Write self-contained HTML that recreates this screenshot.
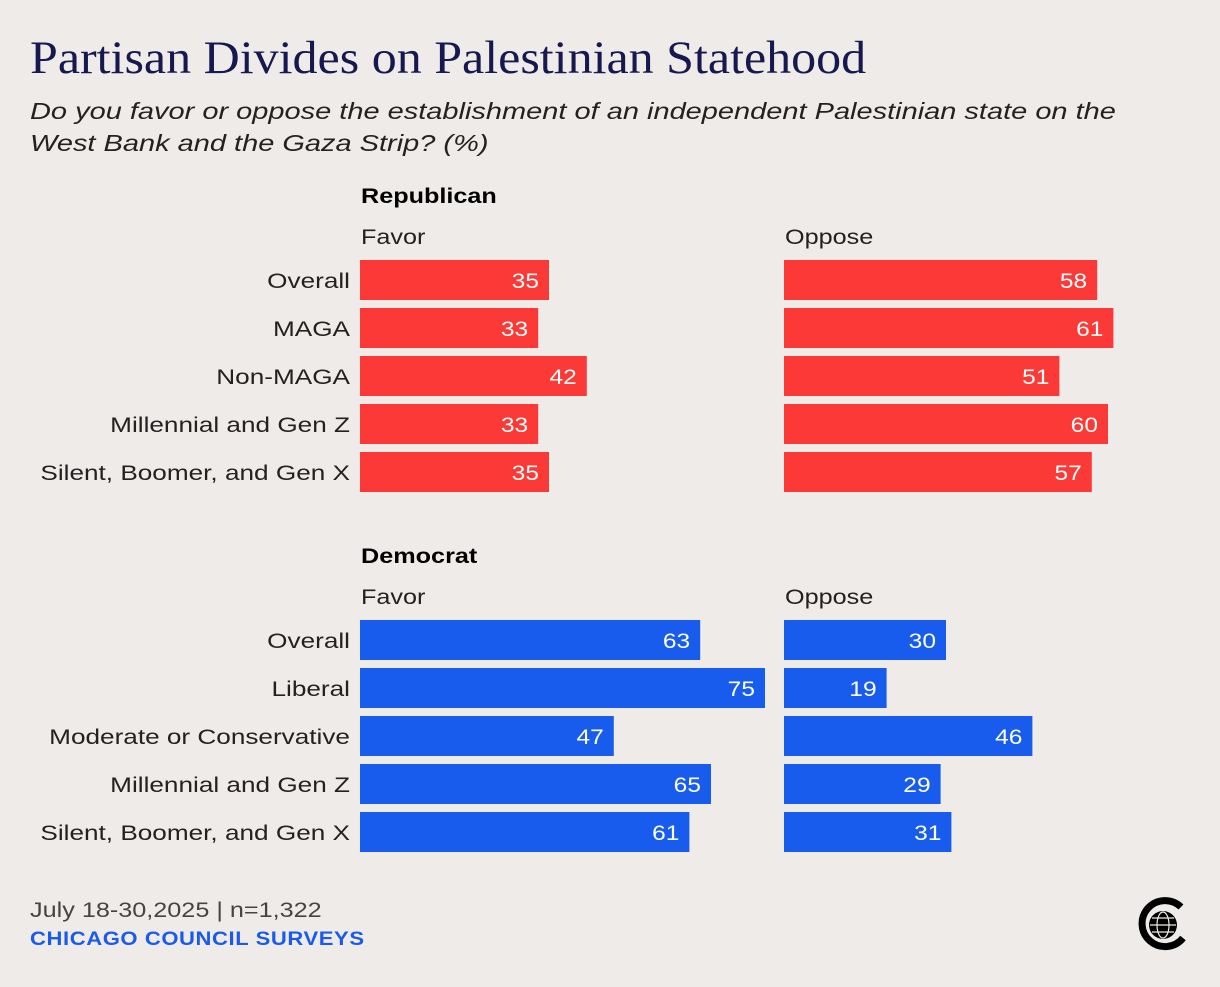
<!DOCTYPE html>
<html><head><meta charset="utf-8"><style>
body{margin:0;background:#efebe8;width:1220px;height:982px;overflow:hidden;font-family:"Liberation Sans",sans-serif}
</style></head><body>
<svg width="1220" height="982" xmlns="http://www.w3.org/2000/svg">
<rect width="1220" height="982" fill="#efebe8"/>
<text class="st" data-r="1.064" x="30" y="73" font-family="Liberation Serif,serif" font-size="47" fill="#16184f">Partisan Divides on Palestinian Statehood</text>
<text class="st" data-r="1.26" x="30" y="119" font-size="23" font-style="italic" fill="#222">Do you favor or oppose the establishment of an independent Palestinian state on the</text>
<text class="st" data-r="1.26" x="30" y="151" font-size="23" font-style="italic" fill="#222">West Bank and the Gaza Strip? (%)</text>
<g id="plot"></g>
<text class="st" data-r="1.2" x="30" y="917" font-size="21" fill="#444">July 18-30,2025 | n=1,322</text>
<text class="st" data-r="1.16" x="30" y="945" font-size="19" font-weight="bold" fill="#1a5ce8" letter-spacing="0.5">CHICAGO COUNCIL SURVEYS</text>
<g>
<path d="M1181 907 A23 23 0 1 0 1183 938" fill="none" stroke="#000" stroke-width="7"/>
<circle cx="1163" cy="925" r="14" fill="#000"/>
<g fill="none" stroke="#efebe8" stroke-width="1.2">
<ellipse cx="1163" cy="925" rx="6" ry="13"/><line x1="1150" y1="925" x2="1176" y2="925"/>
<line x1="1152" y1="918" x2="1174" y2="918"/><line x1="1152" y1="932" x2="1174" y2="932"/>
</g></g>
</svg>
<script>
const categoriesRep=["Overall","MAGA","Non-MAGA","Millennial and Gen Z","Silent, Boomer, and Gen X"];
const favorRep=[35,33,42,33,35];
const opposeRep=[58,61,51,60,57];
const categoriesDem=["Overall","Liberal","Moderate or Conservative","Millennial and Gen Z","Silent, Boomer, and Gen X"];
const favorDem=[63,75,47,65,61];
const opposeDem=[30,19,46,29,31];
const NS="http://www.w3.org/2000/svg";
const plot=document.getElementById('plot');
const scale=v=>v*5.4;
function mk(tag,attrs,txt){const e=document.createElementNS(NS,tag);for(const k in attrs)e.setAttribute(k,attrs[k]);if(txt!==undefined)e.textContent=txt;plot.appendChild(e);return e;}
function panel(title,top,cats,fav,opp,color,key){
 let t=mk('text',{x:361,y:top+50,'font-size':21,'font-weight':'bold',fill:'#000',class:'st','data-r':1.2},title);
 
 
 t=mk('text',{x:361,y:top+91,'font-size':21,fill:'#222',class:'st','data-r':1.2},'Favor');
 
 
 t=mk('text',{x:785,y:top+91,'font-size':21,fill:'#222',class:'st','data-r':1.2},'Oppose');
 
 
 cats.forEach((c,i)=>{
  const y=top+107+i*48;
  let l=mk('text',{x:350,y:y+28,'font-size':21,fill:'#222','text-anchor':'end',class:'st','data-r':1.245},c);
  
  
  [[360,fav[i],'favor'],[784,opp[i],'oppose']].forEach(([x0,v,s])=>{
   const w=scale(v);
   const r=mk('rect',{x:x0,y:y,width:w,height:40,fill:color});
   
   
   const tv=mk('text',{x:x0+w-10,y:y+28,'font-size':21,fill:'#fff','text-anchor':'end',class:'st','data-r':1.17},v);
   
   
  });
 });
}
panel('Republican',153,categoriesRep,favorRep,opposeRep,'#fb3a37','republican');
panel('Democrat',513,categoriesDem,favorDem,opposeDem,'#185cee','democrat');
document.querySelectorAll('text.st').forEach(t=>{
 const r=parseFloat(t.getAttribute('data-r'));
 const w=t.getComputedTextLength();
 t.setAttribute('textLength',(w*r).toFixed(1));
 t.setAttribute('lengthAdjust','spacingAndGlyphs');
});
</script>
</body></html>
